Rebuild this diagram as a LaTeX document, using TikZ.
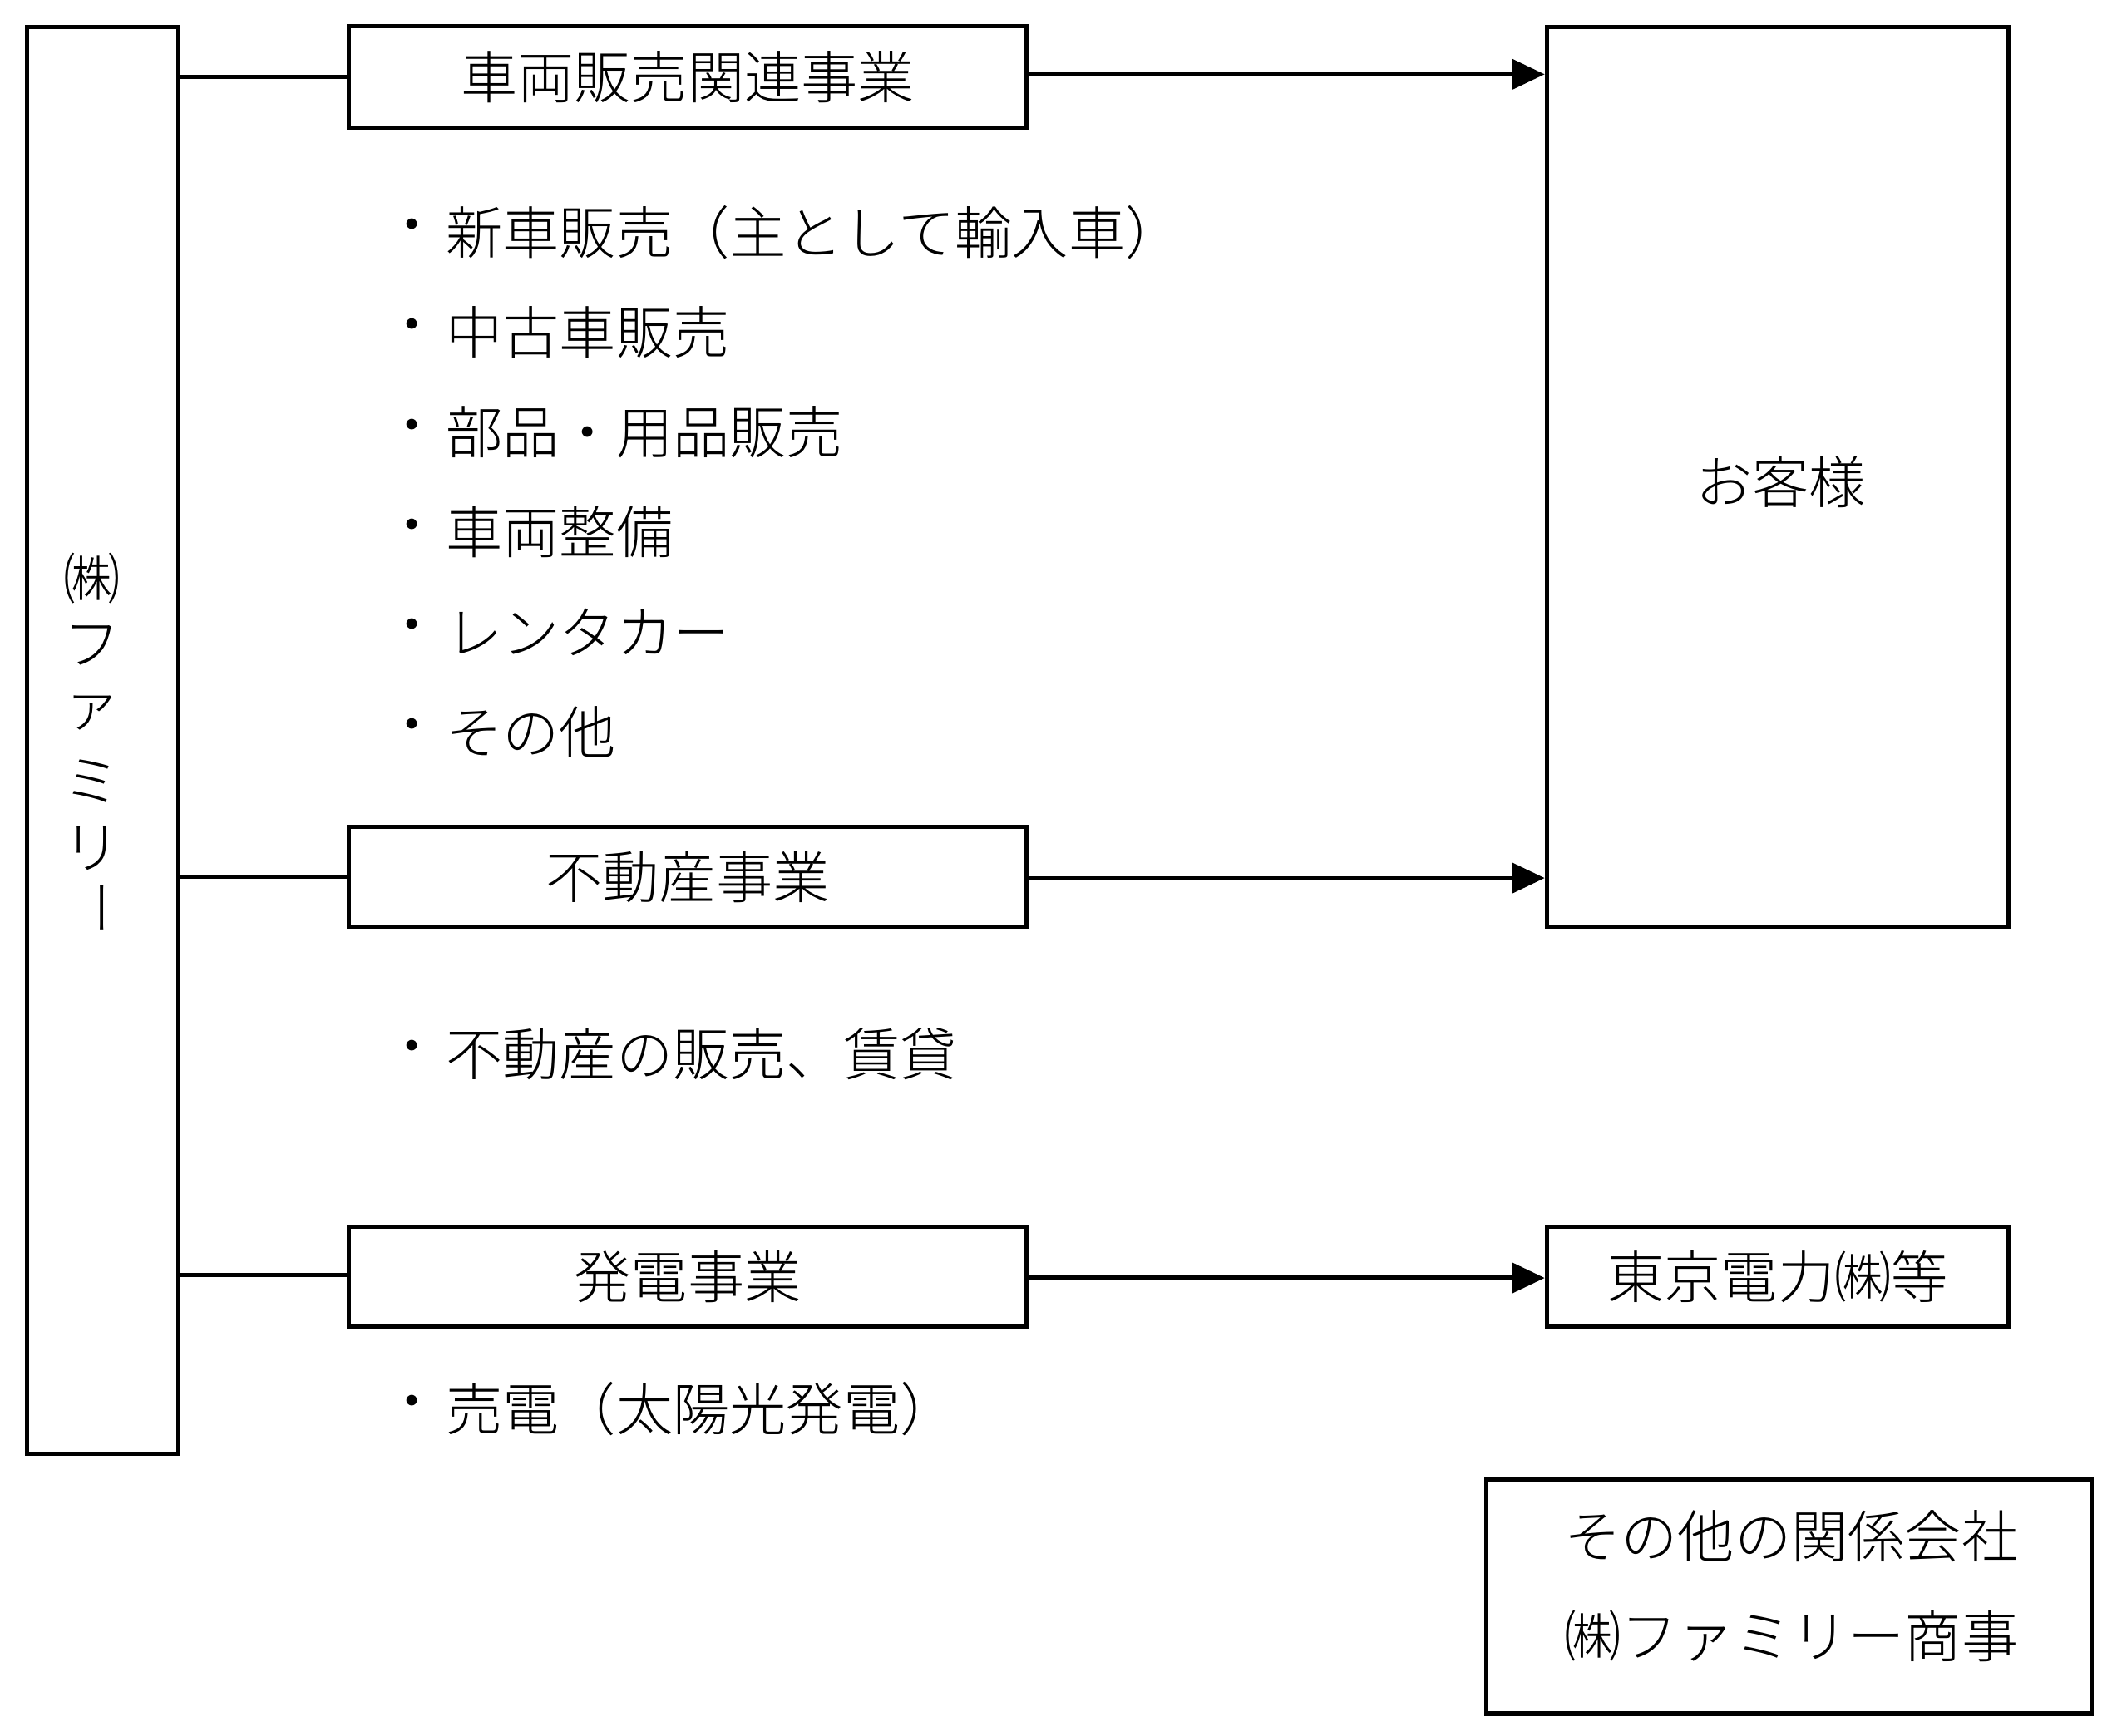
\documentclass[tikz,border=0pt]{standalone}
\usepackage{fontspec}
\setmainfont{Noto Sans CJK JP Light}[BoldFont=Noto Sans CJK JP]
\usetikzlibrary{arrows.meta}
\begin{document}
\begin{tikzpicture}[x=1pt,y=-1pt,
  bx/.style={draw,line width=3.2pt,inner sep=0pt,font=\fontsize{42}{44}\selectfont},
  ln/.style={line width=3.2pt},
  ar/.style={line width=3.2pt,-{Triangle[length=24pt,width=22pt]}},
  txt/.style={anchor=west,inner sep=0pt,font=\fontsize{42}{44}\selectfont},
  bul/.style={inner sep=0pt,font=\fontsize{42}{44}\selectfont}]
\useasboundingbox (0,0) rectangle (1567,1285);
\node[bx,minimum width=112pt,minimum height=1056pt] (fam) at (76,548) {};
\foreach \c/\y [count=\i] in {㈱/428,フ/478,ァ/528,ミ/578,リ/628}
  \node[font=\fontsize{42}{44}\selectfont,inner sep=0pt] (v\i) at (68,\y) {\c};
\node[font=\fontsize{42}{44}\selectfont,inner sep=0pt,rotate=-90] (v6) at (68,672) {ー};
\node[bx,minimum width=502pt,minimum height=75pt] (b1) at (509,57) {車両販売関連事業};
\node[bx,minimum width=502pt,minimum height=74pt] (b2) at (509,649) {不動産事業};
\node[bx,minimum width=502pt,minimum height=74pt] (b3) at (509,945) {発電事業};
\node[bx,minimum width=342pt,minimum height=666pt] (cust) at (1316,353) {};
\node[font=\fontsize{42}{44}\selectfont,inner sep=0pt] (custt) at (1318,357) {お客様};
\node[bx,minimum width=342pt,minimum height=74pt] (tepco) at (1316,945) {東京電力㈱等};
\node[bx,minimum width=448pt,minimum height=173pt] (oth) at (1324,1182) {};
\node[txt,anchor=center] (o1) at (1326,1137) {その他の関係会社};
\node[txt,anchor=center] (o2) at (1326,1211) {㈱ファミリー商事};
\foreach \y/\t [count=\i] in {172/新車販売（主として輸入車）,246/中古車販売,320/部品・用品販売,394/車両整備,468/レンタカー,542/その他,780/不動産の販売、賃貸,1043/売電（太陽光発電）}{
  \node[bul] (d\i) at (305,\y) {・};
  \node[txt] (t\i) at (330,\y) {\t};
}
\draw[ln] (fam.east |- 0,57) coordinate (c1) -- (b1.west |- 0,57);
\draw[ln] (fam.east |- 0,649) coordinate (c2) -- (b2.west |- 0,649);
\draw[ln] (fam.east |- 0,944) coordinate (c3) -- (b3.west |- 0,944);
\draw[ar] (b1.east |- 0,55) -- (cust.west |- 0,55);
\draw[ar] (b2.east |- 0,650) -- (cust.west |- 0,650);
\draw[ar] (b3.east |- 0,946) -- (tepco.west |- 0,946);
\end{tikzpicture}
\end{document}
